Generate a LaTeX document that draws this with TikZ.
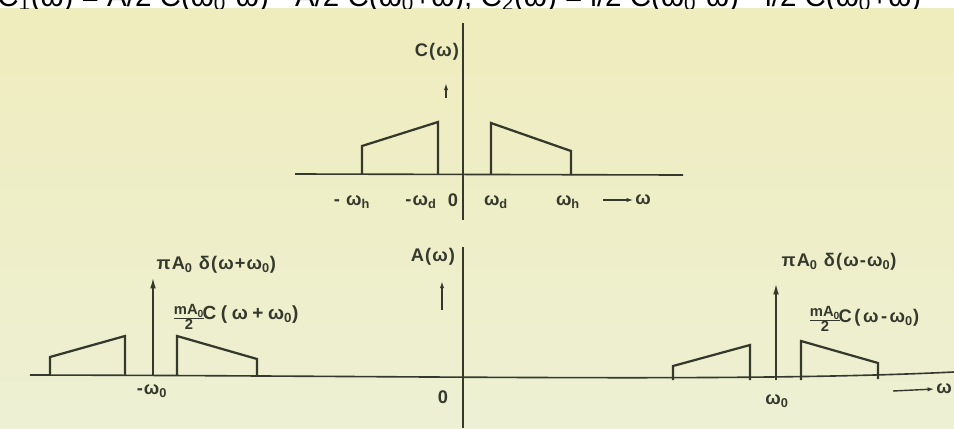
\documentclass[tikz,border=0pt]{standalone}
\usepackage{fontspec}
\setmainfont{Liberation Sans}
\usetikzlibrary{arrows.meta,positioning}
\definecolor{Ink}{HTML}{34392C}
\definecolor{Paper}{HTML}{EFECBD}
\definecolor{PaperLow}{HTML}{EDF0D3}
\newcommand{\subs}[1]{\textsubscript{#1}}
\newcommand{\halfof}[1]{$\frac{\mbox{#1}}{\mbox{2}}$}

\begin{document}
\begin{tikzpicture}[
      x=0.025cm, y=-0.025cm, >=Latex,
      axis/.style={draw=Ink, line width=1.15pt},
      band/.style={draw=Ink, line width=1.6pt, line join=miter},
      impulse/.style={draw=Ink, line width=1.3pt, -{Latex[length=8pt,width=4pt]}},
      hint/.style={draw=Ink, line width=1pt, -{Latex[length=5pt,width=3pt]}},
      lbl/.style={text=Ink, font=\bfseries\fontsize{13}{15}\selectfont\addfontfeatures{LetterSpace=6}, inner sep=1pt},
      wide/.style={text=Ink, font=\bfseries\fontsize{13.5}{15}\selectfont\addfontfeatures{LetterSpace=24}, inner sep=1pt},
      small/.style={text=Ink, font=\bfseries\fontsize{10.5}{12}\selectfont, inner sep=1pt}
    ]
      \useasboundingbox (0,0) rectangle (954,428);
      \fill[white] (0,0) rectangle (954,8);
      \shade[top color=Paper, bottom color=PaperLow] (0,8) rectangle (954,428);
      % cut-off line above the scan
      \begin{scope}
        \clip (0,0) rectangle (954,8);
        \node[anchor=base west, inner sep=0, font=\fontsize{21}{26}\selectfont] (head) at (-3,6)
          {C\subs{1}(ω) = A/2 C(ω\subs{0}-ω) - A/2 C(ω\subs{0}+ω), C\subs{2}(ω) = i/2 C(ω\subs{0}-ω) - i/2 C(ω\subs{0}+ω)};
      \end{scope}

      % spectrum of the modulating signal
      \coordinate (ctop) at (463,23);
      \coordinate (cbot) at (463,220);
      \coordinate (cleft) at (295,174);
      \coordinate (cright) at (683,175);
      \draw[axis] (ctop) -- (cbot);
      \draw[axis] (cleft) -- (cright);
      \draw[band] (362,174) -- (362,146) -- (438,122) -- (438,174);
      \draw[band] (491,174) -- (491,123) -- (571,151) -- (571,175);
      \node[lbl] (cw) at (437,52) {C(ω)};
      \coordinate (cwlow) at (446,98);
      \coordinate (cwhigh) at (446,83);
      \draw[hint] (cwlow) -- (cwhigh);
      \node[lbl] (mwh) at (352,202) {- ω\subs{h}};
      \node[lbl] (mwd) at (421,202) {-ω\subs{d}};
      \node[lbl] (czero) at (453,200) {0};
      \node[lbl] (wd) at (496,202) {ω\subs{d}};
      \node[lbl] (wh) at (568,202) {ω\subs{h}};
      \node[lbl] (cwaxis) at (643,200) {ω};
      \coordinate (cwarr) at (603,200);
      \draw[hint] (cwarr) -- (cwaxis.west);

      % spectrum of the AM signal
      \coordinate (atop) at (463,247);
      \coordinate (abot) at (463,428);
      \coordinate (aleft) at (30,375);
      \coordinate (aright) at (954,372);
      \draw[axis] (atop) -- (abot);
      \draw[axis] (aleft) .. controls (450,376) and (750,382) .. (aright);
      \node[lbl] (aw) at (433,257) {A(ω)};
      \coordinate (awlow) at (442,310);
      \coordinate (awhigh) at (442,281);
      \draw[hint] (awlow) -- (awhigh);
      \node[lbl] (azero) at (443,397) {0};

      % lower side
      \draw[band] (50,375) -- (50,357) -- (125,336) -- (125,375);
      \draw[band] (177,375) -- (177,336) -- (257,359) -- (257,376);
      \coordinate (nfoot) at (153,375);
      \coordinate (ntip) at (153,277);
      \draw[impulse] (nfoot) -- (ntip);
      \node[lbl, anchor=west] (ndelta) at (155,265) {πA\subs{0} δ(ω+ω\subs{0})};
      \node[small] (nhalf) at (189,317) {\halfof{mA\subs{0}}};
      \node[wide, anchor=west] (nshift) at (201,315) {C(ω+ω\subs{0})};
      \node[lbl] (nw) at (152,391) {-ω\subs{0}};

      % upper side
      \draw[band] (673,380) -- (673,366) -- (750,345) -- (750,380);
      \draw[band] (801,380) -- (801,341) -- (878,363) -- (878,379);
      \coordinate (pfoot) at (776,380);
      \coordinate (ptip) at (776,283);
      \draw[impulse] (pfoot) -- (ptip);
      \node[lbl, anchor=west] (pdelta) at (780,262) {πA\subs{0} δ(ω-ω\subs{0})};
      \node[small] (phalf) at (825,319) {\halfof{mA\subs{0}}};
      \node[lbl, anchor=west, font=\bfseries\fontsize{13}{15}\selectfont\addfontfeatures{LetterSpace=14}] (pshift) at (837,318) {C(ω-ω\subs{0})};
      \node[lbl] (pw) at (777,401) {ω\subs{0}};
      \node[lbl] (awaxis) at (944,389) {ω};
      \coordinate (awarr) at (893,391);
      \draw[hint] (awarr) -- (awaxis.west);
    \end{tikzpicture}
\end{document}
